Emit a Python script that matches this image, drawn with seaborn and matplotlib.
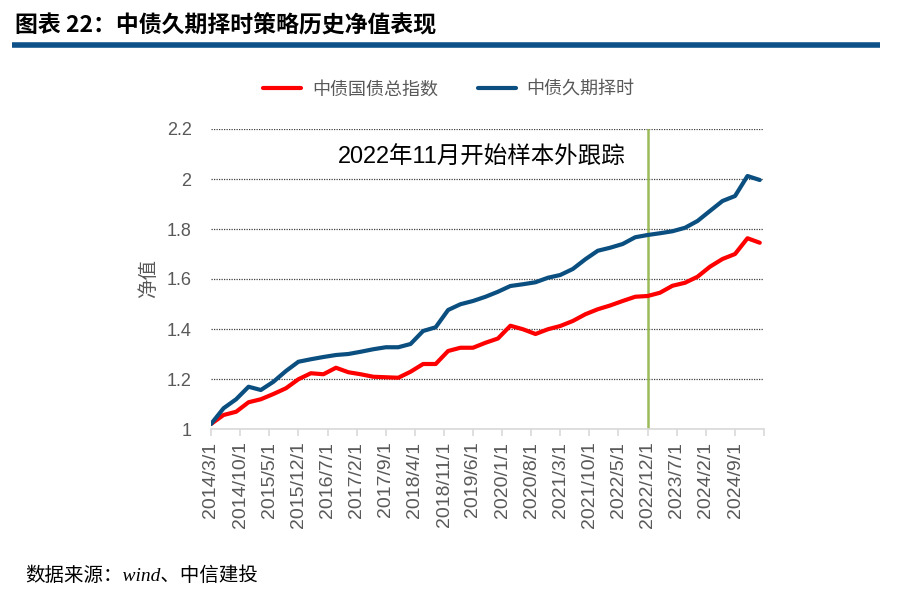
import matplotlib
matplotlib.use("Agg")
import matplotlib.pyplot as plt
from matplotlib.lines import Line2D
import seaborn as sns
import pandas as pd

# quarterly observations, 2014/3 .. 2025/3
dates = pd.date_range("2014-03-01", periods=45, freq="3MS")

bond_index = [1.02, 1.056, 1.069, 1.107, 1.119, 1.14, 1.163, 1.199, 1.223, 1.219,
              1.245, 1.227, 1.219, 1.209, 1.207, 1.205, 1.229, 1.26, 1.26, 1.312,
              1.325, 1.325, 1.345, 1.362, 1.413, 1.399, 1.38, 1.399, 1.412, 1.432,
              1.459, 1.479, 1.494, 1.512, 1.529, 1.532, 1.545, 1.573, 1.585, 1.609,
              1.649, 1.68, 1.70, 1.763, 1.745]
timing = [1.02, 1.083, 1.119, 1.169, 1.156, 1.189, 1.232, 1.269, 1.279, 1.288,
          1.296, 1.30, 1.309, 1.319, 1.327, 1.327, 1.34, 1.392, 1.407, 1.476,
          1.499, 1.512, 1.529, 1.549, 1.572, 1.579, 1.587, 1.605, 1.616, 1.64,
          1.679, 1.713, 1.725, 1.74, 1.767, 1.776, 1.783, 1.791, 1.805, 1.832,
          1.872, 1.912, 1.932, 2.012, 1.996]

series_names = ["中债国债总指数", "中债久期择时"]
colors = ["#ff0000", "#0b4f80"]
yticks = [1, 1.2, 1.4, 1.6, 1.8, 2, 2.2]
oos_start = pd.Timestamp("2022-12-01")

df = pd.concat([
    pd.DataFrame({"date": dates, "value": bond_index, "series": series_names[0]}),
    pd.DataFrame({"date": dates, "value": timing, "series": series_names[1]}),
])

sns.set_theme(style="white")
plt.rcParams["font.family"] = ["Liberation Sans", "Noto Sans CJK SC", "DejaVu Sans"]
gray = "#595959"

fig = plt.figure(figsize=(9, 6), dpi=100)
ax = fig.add_axes([211 / 900, 1 - 429 / 600, 553 / 900, 300 / 600])

sns.lineplot(data=df, x="date", y="value", hue="series", hue_order=series_names,
             palette=colors, linewidth=3, ax=ax)

# out-of-sample marker
ax.axvline(oos_start, color="#9bbb59", lw=1.8, zorder=1)
ax.text(0.49, 0.907, "2022年11月开始样本外跟踪", transform=ax.transAxes,
        ha="center", va="center", fontsize=16.9, color="black",
        family=["Liberation Sans", "Noto Sans CJK SC"])

ax.set_ylim(1, 2.2)
ax.set_yticks(yticks)
ax.set_yticklabels([f"{v:g}" for v in yticks], color=gray, fontsize=13)
ax.set_ylabel("净值", color=gray, fontsize=14, labelpad=6)

ticks = pd.date_range("2014-03-01", "2025-04-01", freq="7MS")
ax.set_xlim(ticks[0], ticks[-1])
ax.set_xticks(ticks)
labels = [f"{d.year}/{d.month}/1" for d in ticks]
labels[-1] = ""
ax.set_xticklabels(labels, rotation=90, color=gray, fontsize=14)
ax.set_xlabel("")

ax.yaxis.grid(True, linestyle=(0, (1, 1)), color="#404040", lw=0.9)
ax.xaxis.grid(False)
for s in ["top", "right", "left"]:
    ax.spines[s].set_visible(False)
ax.spines["bottom"].set_color("#d9d9d9")
ax.spines["bottom"].set_linewidth(1.2)
ax.tick_params(axis="x", bottom=True, length=5, width=1.2, color="#d9d9d9", pad=4)
ax.tick_params(axis="y", left=False, pad=8)

sns.move_legend(ax, "center", bbox_to_anchor=(449 / 900, 1 - 90 / 600),
                bbox_transform=fig.transFigure, ncol=2, frameon=False, title=None,
                fontsize=13, handlelength=2.1, handletextpad=0.6, columnspacing=2.2)
for t in ax.get_legend().get_texts():
    t.set_color(gray)

# header and footer
fig.text(15 / 900, 1 - 26 / 600, "图表 22：中债久期择时策略历史净值表现",
         fontsize=16.5, fontweight="bold", va="center", color="black",
         family=["Noto Sans CJK SC"])
fig.add_artist(Line2D([12 / 900, 880 / 900], [1 - 45 / 600, 1 - 45 / 600],
                      lw=4, color="#0d5188", solid_capstyle="butt",
                      transform=fig.transFigure))
fig.text(25 / 900, 1 - 576 / 600, "数据来源：wind、中信建投", fontsize=14,
         style="italic", va="center", color="black",
         family=["Liberation Serif", "Noto Sans CJK SC"])

fig.savefig("out.png", dpi=100)
